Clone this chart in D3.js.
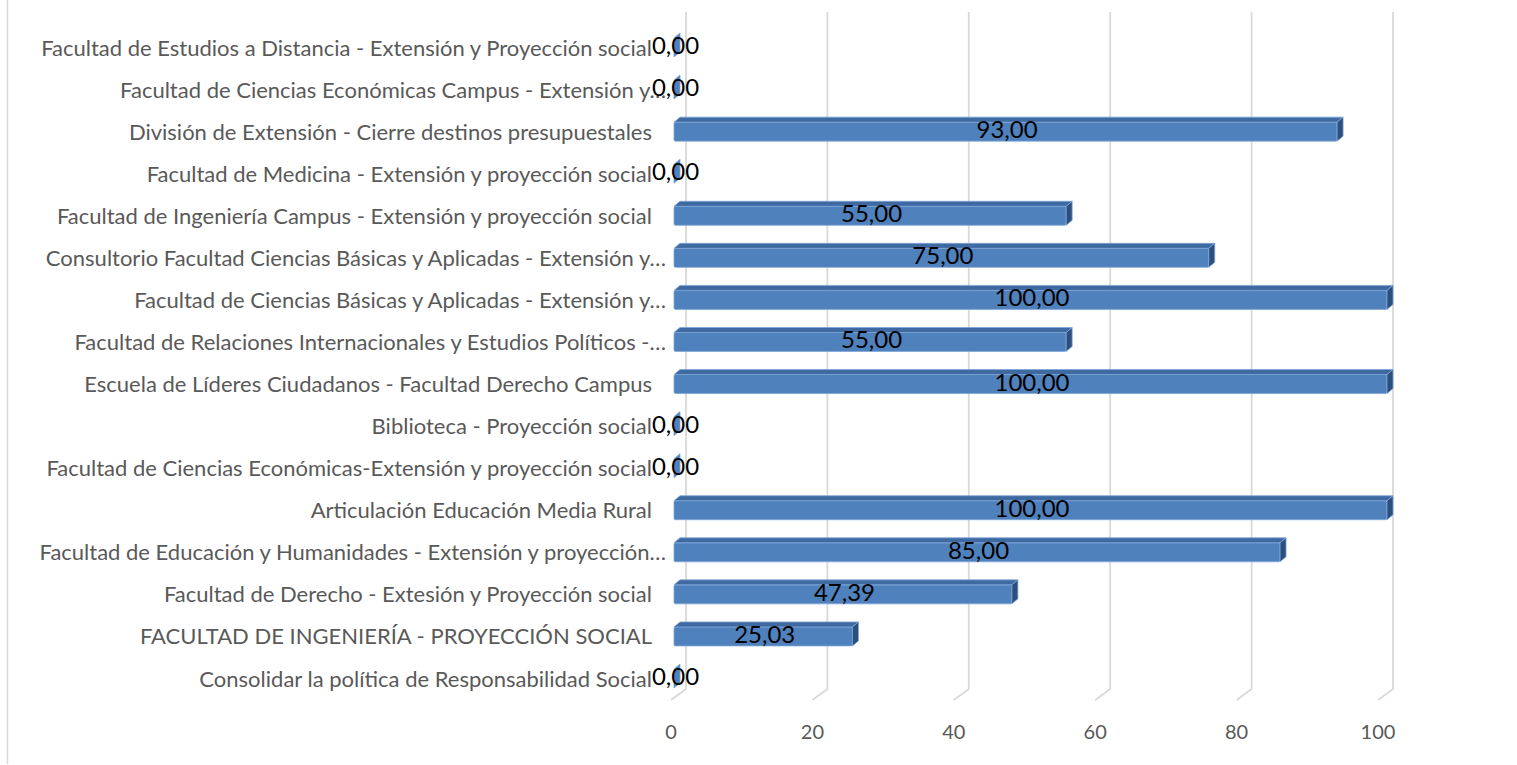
<!DOCTYPE html>
<html>
<head>
<meta charset="utf-8">
<script src="https://cdn.jsdelivr.net/npm/d3@7"></script>
<style>
  html, body { margin: 0; padding: 0; background: #fff; }
  svg { display: block; }
</style>
</head>
<body>
<svg id="chart" width="1517" height="765"></svg>
<script>
// Categories top to bottom, as shown on the chart
const categories = [
  'Facultad de Estudios a Distancia - Extensión y Proyección social',
  'Facultad de Ciencias Económicas Campus - Extensión y…',
  'División de Extensión - Cierre destinos presupuestales',
  'Facultad de Medicina - Extensión y proyección social',
  'Facultad de Ingeniería Campus - Extensión y proyección social',
  'Consultorio Facultad Ciencias Básicas y Aplicadas - Extensión y…',
  'Facultad de Ciencias Básicas y Aplicadas - Extensión y…',
  'Facultad de Relaciones Internacionales y Estudios Políticos -…',
  'Escuela de Líderes Ciudadanos - Facultad Derecho Campus',
  'Biblioteca - Proyección social',
  'Facultad de Ciencias Económicas-Extensión y proyección social',
  'Articulación Educación Media Rural',
  'Facultad de Educación y Humanidades - Extensión y proyección…',
  'Facultad de Derecho - Extesión y Proyección social',
  'FACULTAD DE INGENIERÍA - PROYECCIÓN SOCIAL',
  'Consolidar la política de Responsabilidad Social'
];
const values = [0, 0, 93, 0, 55, 75, 100, 55, 100, 0, 0, 100, 85, 47.39, 25.03, 0];
const xTicks = [0, 20, 40, 60, 80, 100];

const palette = {
  font: 'Lato, "Open Sans", sans-serif',
  text: '#595959',
  grid: '#d9d9d9',
  front: '#4f81bd',
  top: '#3e6aa1',
  side: '#2c4f7c',
  edge: '#7ea6d8'
};

const svg = d3.select('#chart');

// 3D offsets (depth of bars, floor depth)
const DX = 6, DY = 5;
const GRID_TOP = 12, GRID_BOTTOM = 689, FLOOR_FRONT = 700;
const LABEL_X = 652, LABEL_X_TRUNC = 666;

const xFront = d3.scaleLinear().domain([0, 100]).range([674, 1387]);
const xBack  = d3.scaleLinear().domain([0, 100]).range([686, 1393]);
const xFloor = d3.scaleLinear().domain([0, 100]).range([671, 1378]);
const y = d3.scalePoint().domain(categories).range([47, 678]);

const fmt = d3.formatLocale({ decimal: ',', thousands: '.', grouping: [3], currency: ['', ''] }).format('.2f');

// Chart border (left edge visible)
svg.append('line')
  .attr('x1', 7.5).attr('y1', 0).attr('x2', 7.5).attr('y2', 764)
  .style('stroke', palette.grid).style('stroke-width', 1.5);

// Back-wall gridlines with floor diagonal
const gridG = svg.append('g');
xTicks.forEach(t => {
  gridG.append('path')
    .attr('d', `M${xBack(t)},${GRID_TOP} L${xBack(t)},${GRID_BOTTOM} L${xFloor(t)},${FLOOR_FRONT}`)
    .style('fill', 'none')
    .style('stroke', palette.grid)
    .style('stroke-width', 1.8);
});

// Tick labels
svg.append('g').selectAll('text')
  .data(xTicks)
  .join('text')
  .attr('x', d => xFloor(d)).attr('y', 731)
  .attr('text-anchor', 'middle').attr('dominant-baseline', 'central')
  .style('font-family', palette.font).style('font-size', '20px')
  .style('fill', palette.text)
  .text(d => d);

// Bars
const rows = categories.map((c, i) => ({ c, v: values[i] }));
const barG = svg.append('g');
rows.forEach(d => {
  const yc = y(d.c);
  const top = yc - 9, bottom = yc + 10;
  const x0 = xFront(0), x1 = xFront(d.v);
  const g = barG.append('g');
  if (d.v > 0) {
    g.append('rect')
      .attr('x', x0).attr('y', top)
      .attr('width', x1 - x0).attr('height', bottom - top)
      .attr('rx', 1.5)
      .style('fill', palette.front)
      .style('stroke', palette.edge).style('stroke-width', 0.8);
    g.append('polygon')
      .attr('points', [[x0, top], [x0 + DX, top - DY], [x1 + DX, top - DY], [x1, top]].join(' '))
      .style('fill', palette.top)
      .style('stroke', palette.edge).style('stroke-width', 0.8);
  }
  g.append('polygon')
    .attr('points', [[x1, top], [x1 + DX, top - DY], [x1 + DX, bottom - DY], [x1, bottom]].join(' '))
    .style('fill', d.v > 0 ? palette.side : palette.front)
    .style('stroke', palette.edge).style('stroke-width', 0.8);
});

// Category labels
svg.append('g').selectAll('text')
  .data(rows)
  .join('text')
  .attr('x', d => d.c.endsWith('…') ? LABEL_X_TRUNC : LABEL_X)
  .attr('y', d => y(d.c))
  .attr('text-anchor', 'end').attr('dominant-baseline', 'central')
  .style('font-family', palette.font).style('font-size', '22px')
  .style('fill', palette.text)
  .text(d => d.c);

// Value labels, centred on the bar
svg.append('g').selectAll('text')
  .data(rows)
  .join('text')
  .attr('x', d => (xFront(0) + xFront(d.v)) / 2 + 1.5)
  .attr('y', d => y(d.c) + 7)
  .attr('text-anchor', 'middle')
  .style('font-family', palette.font).style('font-size', '24px')
  .style('fill', '#000')
  .text(d => fmt(d.v));
</script>
</body>
</html>
